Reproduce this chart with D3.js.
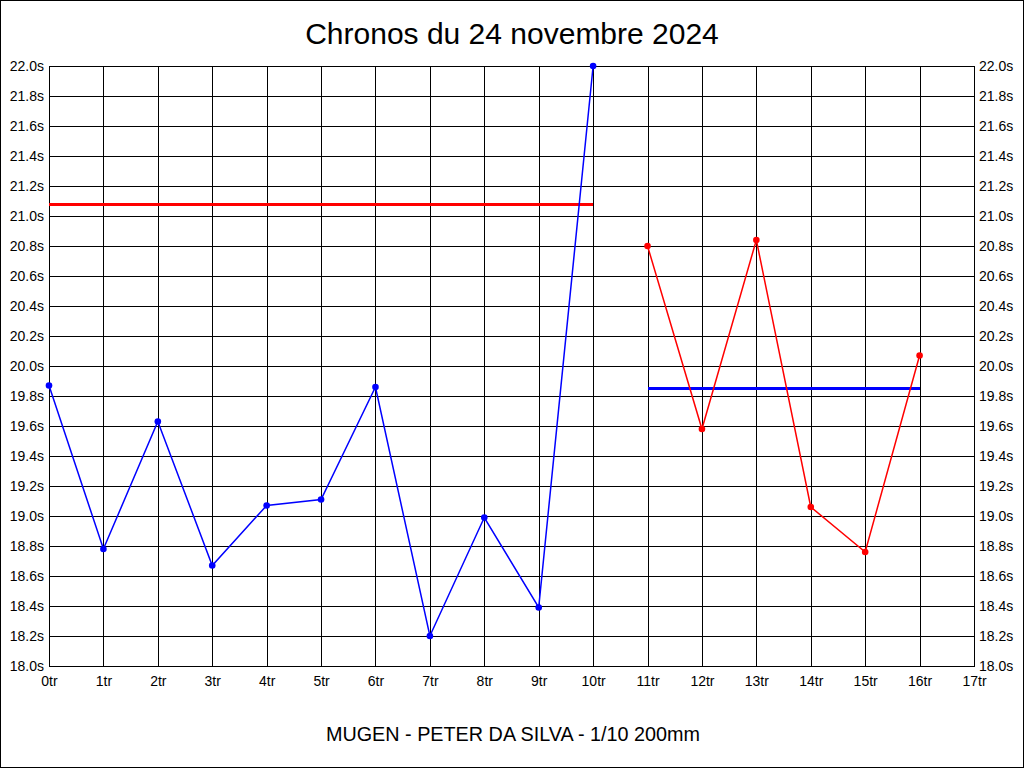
<!DOCTYPE html>
<html><head><meta charset="utf-8">
<script src="https://cdn.jsdelivr.net/npm/d3@7"></script>
<style>
html,body{margin:0;padding:0;background:#fff;}
svg{display:block;font-family:"Liberation Sans",Arial,sans-serif;}
</style></head>
<body>
<svg id="c" width="1024" height="768"></svg>
<script>
// ---- data ----
const title = "Chronos du 24 novembre 2024";
const subtitle = "MUGEN - PETER DA SILVA - 1/10 200mm";
const lapLabels = ["0tr","1tr","2tr","3tr","4tr","5tr","6tr","7tr","8tr","9tr","10tr","11tr","12tr","13tr","14tr","15tr","16tr","17tr"];
const yTickValues = [18.0,18.2,18.4,18.6,18.8,19.0,19.2,19.4,19.6,19.8,20.0,20.2,20.4,20.6,20.8,21.0,21.2,21.4,21.6,21.8,22.0];
const blueStart = 0;
const blueTimes = [19.87,18.78,19.63,18.67,19.07,19.11,19.86,18.20,18.99,18.39,22.00];
const redStart = 11;
const redTimes = [20.80,19.58,20.84,19.06,18.76,20.07];
const blueSeriesAvg = 21.08; // drawn red, laps 0-10
const redSeriesAvg = 19.85;  // drawn blue, laps 11-16

(function(){
// ---- layout ----
const svg = d3.select("#c");
const pL = 49, pR = 974, pT = 66, pB = 666;
const x = d3.scaleLinear().domain([0, lapLabels.length - 1]).range([pL, pR]);
const y = d3.scaleLinear().domain([18, 22]).range([pB, pT]);

// outer border
svg.append("rect").attr("x",0.5).attr("y",0.5).attr("width",1023).attr("height",767)
  .attr("fill","#fff").attr("stroke","#000").attr("stroke-width",1);

// grid
const grid = svg.append("g").attr("shape-rendering","crispEdges");
grid.selectAll("line.v").data(d3.range(lapLabels.length)).join("line").attr("class","v")
  .attr("x1",d=>Math.round(x(d))+0.5).attr("x2",d=>Math.round(x(d))+0.5)
  .attr("y1",pT).attr("y2",pB+1).attr("stroke","#000").attr("stroke-width",1);
grid.selectAll("line.h").data(yTickValues).join("line").attr("class","h")
  .attr("y1",d=>Math.round(y(d))+0.5).attr("y2",d=>Math.round(y(d))+0.5)
  .attr("x1",pL).attr("x2",pR+1).attr("stroke","#000").attr("stroke-width",1);

// axes (labels)
const fmt = d => d.toFixed(1) + "s";
const axL = svg.append("g").attr("transform",`translate(${pL},0)`)
  .call(d3.axisLeft(y).tickValues(yTickValues).tickFormat(fmt).tickSize(0).tickPadding(5));
const axR = svg.append("g").attr("transform",`translate(${pR},0)`)
  .call(d3.axisRight(y).tickValues(yTickValues).tickFormat(fmt).tickSize(0).tickPadding(5));
const axB = svg.append("g").attr("transform",`translate(0,${pB})`)
  .call(d3.axisBottom(x).tickValues(d3.range(lapLabels.length)).tickFormat(i=>lapLabels[i]).tickSize(0).tickPadding(10));
[axL,axR,axB].forEach(a=>{
  a.select(".domain").remove();
  a.selectAll("text").attr("font-size",14).attr("font-family","'Liberation Sans',Arial,sans-serif").attr("fill","#000");
});

// average lines
svg.append("line").attr("x1",x(blueStart)).attr("x2",x(blueStart+blueTimes.length-1))
  .attr("y1",y(blueSeriesAvg)).attr("y2",y(blueSeriesAvg))
  .attr("stroke","#ff0000").attr("stroke-width",3).attr("shape-rendering","crispEdges");
svg.append("line").attr("x1",x(redStart)).attr("x2",x(redStart+redTimes.length-1))
  .attr("y1",y(redSeriesAvg)).attr("y2",y(redSeriesAvg))
  .attr("stroke","#0000ff").attr("stroke-width",3).attr("shape-rendering","crispEdges");

// series
function drawSeries(vals, start, color){
  const pts = vals.map((v,i)=>[start+i, v]);
  svg.append("path").datum(pts)
    .attr("d", d3.line().x(d=>x(d[0])).y(d=>y(d[1])))
    .attr("fill","none").attr("stroke",color).attr("stroke-width",1.5);
  svg.append("g").selectAll("circle").data(pts).join("circle")
    .attr("cx",d=>x(d[0])).attr("cy",d=>y(d[1])).attr("r",3.3).attr("fill",color);
}
drawSeries(blueTimes, blueStart, "#0000ff");
drawSeries(redTimes, redStart, "#ff0000");

// titles
svg.append("text").attr("x",512).attr("y",44).attr("text-anchor","middle")
  .attr("font-size",30).attr("fill","#000").text(title);
svg.append("text").attr("x",513).attr("y",741).attr("text-anchor","middle")
  .attr("font-size",19.8).attr("fill","#000").text(subtitle);
})();
</script>
</body></html>
